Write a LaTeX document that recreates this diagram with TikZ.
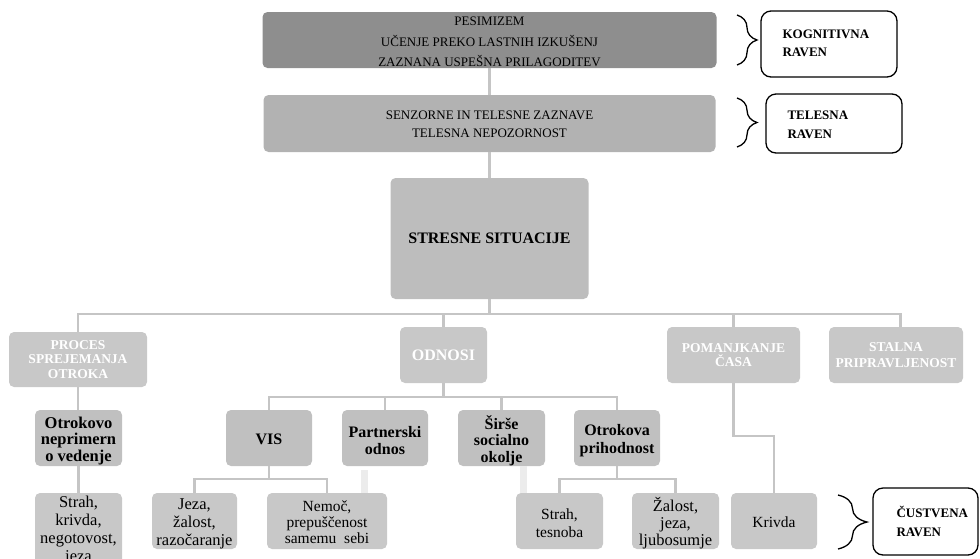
\documentclass[tikz,border=0pt]{standalone}
\usepackage{fontspec}
\setmainfont{Liberation Serif}
\usetikzlibrary{decorations.pathreplacing}

\definecolor{cogfill}{RGB}{142,142,142}
\definecolor{bodyfill}{RGB}{178,178,178}
\definecolor{stressfill}{RGB}{189,189,189}
\definecolor{causefill}{RGB}{200,200,200}
\definecolor{subfill}{RGB}{192,192,192}
\definecolor{feelfill}{RGB}{200,200,200}
\definecolor{linkgray}{RGB}{197,197,197}
\definecolor{faintgray}{RGB}{236,236,236}

\tikzset{
  box/.style={rounded corners=5pt, inner sep=0pt, align=center},
  boxtext/.style={inner sep=0pt, align=center},
  toptext/.style={boxtext, font=\fontsize{13}{20.5}\selectfont},
  causebox/.style={box, fill=causefill, text=white, font=\bfseries\fontsize{13.5}{14.5}\selectfont},
  subbox/.style={box, fill=subfill},
  subtext/.style={boxtext, font=\bfseries\fontsize{16}{17.5}\selectfont},
  feelbox/.style={box, fill=feelfill},
  feeltext/.style={boxtext, font=\fontsize{16.5}{17.5}\selectfont},
  levelbox/.style={draw=black, line width=1.3pt, rounded corners=10pt, inner sep=0pt},
  leveltext/.style={anchor=west, align=left, inner sep=0pt, font=\bfseries\fontsize{13}{18.5}\selectfont},
  link/.style={draw=linkgray, line width=2.6pt},
  faintlink/.style={draw=faintgray, line width=7pt},
  levelbrace/.style={decorate, line width=1.3pt, draw=black}
}

\begin{document}
\begin{tikzpicture}[x=1pt, y=-1pt]
\useasboundingbox (0,0) rectangle (980,558);
\clip (0,0) rectangle (980,558);

% upper levels
\node[box, fill=cogfill, minimum width=454pt, minimum height=56pt] (cog) at (489.5,40) {};
\node[toptext] at ([yshift=-2pt]cog.center)
  {PESIMIZEM\\UČENJE PREKO LASTNIH IZKUŠENJ\\ZAZNANA USPEŠNA PRILAGODITEV};
\node[box, fill=bodyfill, minimum width=452pt, minimum height=57pt] (body) at (489.5,123.5) {};
\node[toptext, font=\fontsize{13}{18.5}\selectfont] at ([yshift=-1pt]body.center)
  {SENZORNE IN TELESNE ZAZNAVE\\TELESNA NEPOZORNOST};
\node[box, fill=stressfill, minimum width=198pt, minimum height=121pt,
      font=\bfseries\fontsize{16}{18}\selectfont] (stress) at (489.5,238.5)
  {STRESNE SITUACIJE};

% causes
\node[causebox, minimum width=138pt, minimum height=55pt] (proces) at (78,359.5)
  {PROCES\\SPREJEMANJA\\OTROKA};
\node[causebox, minimum width=87pt, minimum height=56pt,
      font=\bfseries\fontsize{16}{18}\selectfont] (odnosi) at (443.5,355) {ODNOSI};
\node[causebox, minimum width=133pt, minimum height=56pt] (cas) at (733.5,355)
  {POMANJKANJE\\ČASA};
\node[causebox, minimum width=134pt, minimum height=56pt,
      font=\bfseries\fontsize{13.5}{16.5}\selectfont] (stalna) at (896,355)
  {STALNA\\PRIPRAVLJENOST};

% sub-causes
\node[subbox, minimum width=87pt, minimum height=56pt] (vedenje) at (78.5,438) {};
\node[subtext, font=\bfseries\fontsize{16.5}{16.5}\selectfont] at ([yshift=-3pt]vedenje.center)
  {Otrokovo\\neprimern\\o vedenje};
\node[subbox, minimum width=86pt, minimum height=56pt] (vis) at (269,438) {};
\node[subtext] at ([yshift=-1pt]vis.center) {VIS};
\node[subbox, minimum width=86pt, minimum height=56pt] (partner) at (385,438) {};
\node[subtext] at ([yshift=-2.5pt]partner.center) {Partnerski\\odnos};
\node[subbox, minimum width=87pt, minimum height=56pt] (sirse) at (501.5,438) {};
\node[subtext, font=\bfseries\fontsize{16}{16.5}\selectfont] at ([yshift=-2.5pt]sirse.center)
  {Širše\\socialno\\okolje};
\node[subbox, minimum width=86pt, minimum height=56pt] (prihodnost) at (617,438) {};
\node[subtext] at ([yshift=-2.5pt]prihodnost.center) {Otrokova\\prihodnost};

% feelings
\node[feelbox, minimum width=87pt, minimum height=74pt] (e1) at (78.5,530) {};
\node[feeltext, font=\fontsize{16.5}{18}\selectfont] at ([yshift=-1pt]e1.center)
  {Strah,\\krivda,\\negotovost,\\jeza};
\node[feelbox, minimum width=85pt, minimum height=56pt] (e2) at (194.5,521) {};
\node[feeltext, font=\fontsize{16.5}{18}\selectfont] at ([yshift=-3pt]e2.center)
  {Jeza,\\žalost,\\razočaranje};
\node[feelbox, minimum width=120pt, minimum height=56pt] (e3) at (327,521) {};
\node[feeltext, font=\fontsize{15.5}{16}\selectfont] at ([yshift=-1pt]e3.center)
  {Nemoč,\\prepuščenost\\samemu\ \ sebi};
\node[feelbox, minimum width=87pt, minimum height=56pt] (e4) at (559.5,521) {};
\node[feeltext, font=\fontsize{15.5}{17.5}\selectfont] at ([yshift=-2pt]e4.center)
  {Strah,\\tesnoba};
\node[feelbox, minimum width=87pt, minimum height=56pt] (e5) at (675.5,521) {};
\node[feeltext, font=\fontsize{16.5}{17}\selectfont] at ([yshift=-2pt]e5.center)
  {Žalost,\\jeza,\\ljubosumje};
\node[feelbox, minimum width=86pt, minimum height=56pt] (e6) at (774,521) {};
\node[feeltext, font=\fontsize{15.5}{17}\selectfont] at ([yshift=-1pt]e6.center) {Krivda};

% junction points of the tree
\coordinate (bus) at (489.5,314);
\coordinate (obus) at (443.5,397);
\coordinate (vbus) at (269,479);
\coordinate (pbus) at (617,479);
\coordinate (kbend) at (733.5,436);

% connectors
\draw[link] (cog.south) -- (body.north);
\draw[link] (body.south) -- (stress.north);
\draw[link] (stress.south) -- (bus);
\draw[link] (proces.north) |- (bus) -| ([xshift=4.7pt]stalna.north);
\draw[link] (bus) -| (odnosi.north);
\draw[link] (bus) -| (cas.north);

\draw[link] (odnosi.south) -- (obus);
\draw[link] (vis.north) |- (obus) -| (prihodnost.north);
\draw[link] (partner.north) -- (partner.north |- obus);
\draw[link] (sirse.north) -- (sirse.north |- obus);

\draw[link] (proces.south) -- (proces.south |- vedenje.north);
\draw[link] (vedenje.south) -- (vedenje.south |- e1.north);

\draw[link] (vis.south) -- (vbus);
\draw[link] (e2.north) |- (vbus) -| (e3.north);
\draw[link] (prihodnost.south) -- (pbus);
\draw[link] (e4.north) |- (pbus) -| (e5.north);
\draw[link] (cas.south) -- (kbend) -| (e6.north);

\draw[faintlink] ([xshift=-20.5pt,yshift=-4pt]partner.south) -- ([xshift=-20.5pt]partner.south |- e3.north);
\draw[faintlink] ([xshift=22pt]sirse.south) -- ([xshift=22pt]sirse.south |- e4.north);

% level labels with braces
\node[levelbox, minimum width=136pt, minimum height=66pt] (lk) at (829,44) {};
\node[leveltext] at ([xshift=22pt,yshift=0.5pt]lk.west) {KOGNITIVNA\\RAVEN};
\node[levelbox, minimum width=136pt, minimum height=59pt] (lt) at (834,123.5) {};
\node[leveltext] at ([xshift=22pt,yshift=-1.5pt]lt.west) {TELESNA\\RAVEN};
\node[levelbox, minimum width=105pt, minimum height=67pt] (lc) at (925.5,521.5) {};
\node[leveltext] at ([xshift=24pt]lc.west) {ČUSTVENA\\RAVEN};

\coordinate (bk1) at (737,15);  \coordinate (bk2) at (737,65);
\coordinate (bt1) at (737,98);  \coordinate (bt2) at (737,147);
\coordinate (bc1) at (838,495); \coordinate (bc2) at (838,549);
\draw[levelbrace, decoration={brace, amplitude=20pt}] (bk1) -- (bk2);
\draw[levelbrace, decoration={brace, amplitude=20pt}] (bt1) -- (bt2);
\draw[levelbrace, decoration={brace, amplitude=29pt}] (bc1) -- (bc2);
\end{tikzpicture}
\end{document}
